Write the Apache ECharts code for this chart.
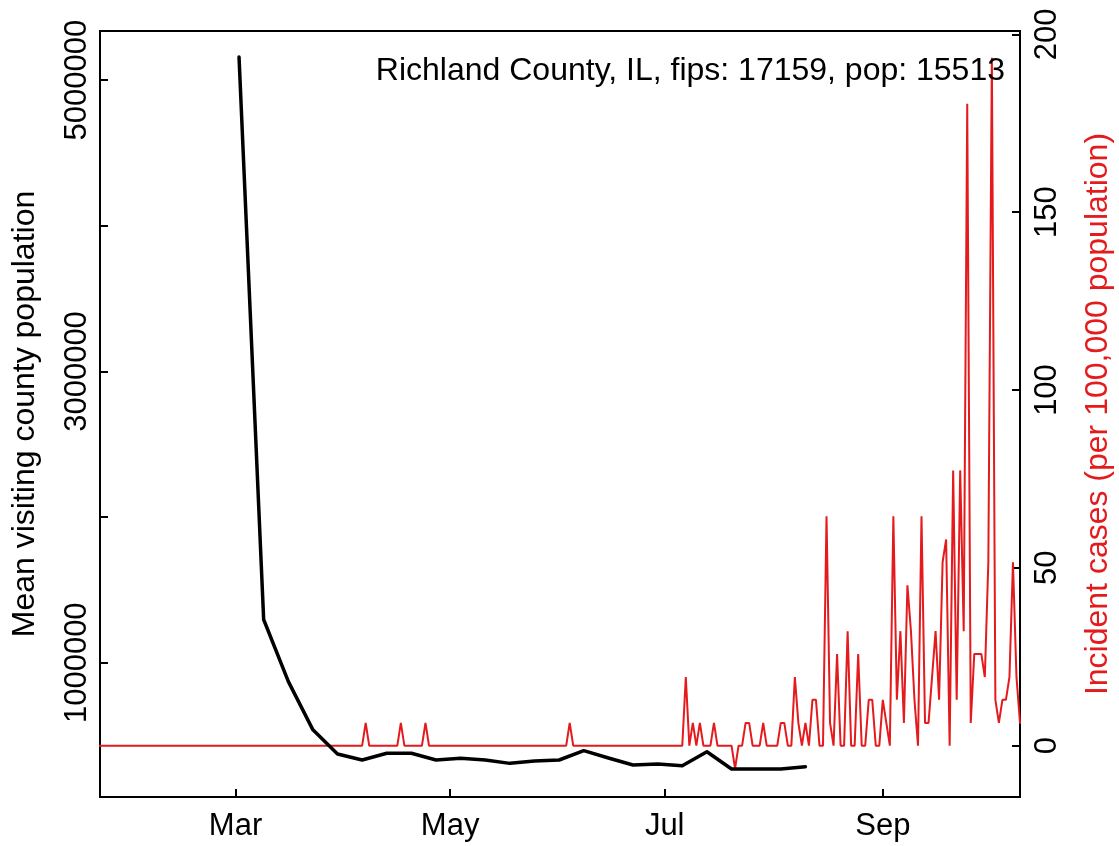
<!DOCTYPE html>
<html><head><meta charset="utf-8">
<script src="https://cdn.jsdelivr.net/npm/echarts@6/dist/echarts.min.js"></script>
<style>html,body{margin:0;padding:0;background:#fff}#c{width:1119px;height:846px}</style>
</head><body><div id="c"></div>
<script>
// ---------- text ----------
const titleText = 'Richland County, IL, fips: 17159, pop: 15513';
const leftAxisName = 'Mean visiting county population';
const rightAxisName = 'Incident cases (per 100,000 population)';

// ---------- axes ----------
const xRange = ['2020-01-22T11:30:00Z', '2020-10-10T00:00:00Z'];
const xTickDates = ['2020-03-01', '2020-05-01', '2020-07-01', '2020-09-01'];
const xTickLabels = ['Mar', 'May', 'Jul', 'Sep'];
const leftRange = [78000, 5338000];
const leftTicks = [1000000, 2000000, 3000000, 4000000, 5000000];
const leftLabels = [1000000, 3000000, 5000000];
const rightRange = [-14.42, 200.93];
const rightTicks = [0, 50, 100, 150, 200];

// ---------- black series: weekly mean visiting county population ----------
const visitDates = ['2020-03-02','2020-03-09','2020-03-16','2020-03-23','2020-03-30',
  '2020-04-06','2020-04-13','2020-04-20','2020-04-27','2020-05-04','2020-05-11',
  '2020-05-18','2020-05-25','2020-06-01','2020-06-08','2020-06-15','2020-06-22',
  '2020-06-29','2020-07-06','2020-07-13','2020-07-20','2020-07-27','2020-08-03','2020-08-10'];
const visitValues = [5159000, 1297000, 872000, 539000, 373000,
  332000, 378000, 378000, 332000, 344000, 332000,
  309000, 325000, 332000, 396000, 346000, 298000,
  305000, 293000, 389000, 270000, 270000, 270000, 286000];

// ---------- red series: daily incident cases per 100,000 (from 2020-01-21) ----------
const caseStartDate = '2020-01-21';
const caseValues = [
  0,0,0,0,0,0,0,0,0,0,   // Jan 21-30
  0,0,0,0,0,0,0,0,0,0,
  0,0,0,0,0,0,0,0,0,0,
  0,0,0,0,0,0,0,0,0,0,
  0,0,0,0,0,0,0,0,0,0,   // Mar 1-10
  0,0,0,0,0,0,0,0,0,0,
  0,0,0,0,0,0,0,0,0,0,
  0,0,0,0,0,0,0,6.4,0,0,
  0,0,0,0,0,0,0,6.4,0,0,
  0,0,0,0,6.4,0,0,0,0,0,
  0,0,0,0,0,0,0,0,0,0,
  0,0,0,0,0,0,0,0,0,0,
  0,0,0,0,0,0,0,0,0,0,
  0,0,0,0,0,6.4,0,0,0,0,
  0,0,0,0,0,0,0,0,0,0,
  0,0,0,0,0,0,0,0,0,0,
  0,0,0,0,0,0,0,0,19.3,0,
  6.4,0,6.4,0,0,0,6.4,0,0,0,
  0,0,-6.4,0,0,6.4,6.4,0,0,0,
  6.4,0,0,0,0,6.4,6.4,0,0,19.3,
  6.4,0,6.4,0,12.9,12.9,0,0,64.5,6.4,
  0,25.8,0,0,32.2,0,0,25.8,0,0,
  12.9,12.9,0,0,12.9,6.4,0,64.5,12.9,32.2,
  6.4,45.1,32.2,12.9,0,64.5,6.4,6.4,19.3,32.2,
  12.9,51.6,58.0,0,77.4,12.9,77.4,32.2,180.5,6.4,
  25.8,25.8,25.8,19.3,51.6,193.4,12.9,6.4,12.9,12.9,
  19.3,51.6,19.3,6.4,6.4
];

// ---------- colours ----------
const RED = '#e41a1c';
const BLACK = '#000000';
const FONT = '"Liberation Sans", Arial, Helvetica, sans-serif';

const DAY = 86400000;
const ts = s => Date.parse(s.length === 10 ? s + 'T00:00:00Z' : s);
const xTickTs = xTickDates.map(ts);
const visitData = visitDates.map((d, i) => [ts(d), visitValues[i]]);
const caseStart = ts(caseStartDate);
const caseData = caseValues.map((v, i) => [caseStart + i * DAY, v]);

const chart = echarts.init(document.getElementById('c'), null, {renderer: 'canvas'});
chart.setOption({
  animation: false,
  backgroundColor: '#ffffff',
  textStyle: {fontFamily: FONT},
  grid: {left: 100, right: 99, top: 31, bottom: 49, show: true, borderColor: BLACK, borderWidth: 2,
         containLabel: false, outerBoundsMode: 'none'},
  xAxis: {
    type: 'value', min: ts(xRange[0]), max: ts(xRange[1]), scale: true,
    splitLine: {show: false},
    axisLine: {show: true, onZero: false, lineStyle: {color: BLACK, width: 2}},
    axisTick: {show: true, inside: true, length: 8, customValues: xTickTs, lineStyle: {color: BLACK, width: 2}},
    axisLabel: {show: true, customValues: xTickTs, margin: 14, fontSize: 31, color: BLACK, fontFamily: FONT,
      formatter: v => { const i = xTickTs.indexOf(v); return i >= 0 ? xTickLabels[i] : ''; }}
  },
  yAxis: [{
    type: 'value', position: 'left', min: leftRange[0], max: leftRange[1],
    splitLine: {show: false},
    axisLine: {show: true, onZero: false, lineStyle: {color: BLACK, width: 2}},
    axisTick: {show: true, inside: true, length: 8, customValues: leftTicks, lineStyle: {color: BLACK, width: 2}},
    axisLabel: {show: true, customValues: leftLabels, rotate: 90, margin: 7, fontSize: 31, color: BLACK, fontFamily: FONT,
      formatter: v => String(v)},
    name: leftAxisName, nameLocation: 'middle', nameRotate: 90, nameGap: 59,
    nameTextStyle: {fontSize: 32, color: BLACK, fontFamily: FONT}
  }, {
    type: 'value', position: 'right', min: rightRange[0], max: rightRange[1],
    splitLine: {show: false},
    axisLine: {show: true, onZero: false, lineStyle: {color: BLACK, width: 2}},
    axisTick: {show: true, inside: true, length: 8, customValues: rightTicks, lineStyle: {color: BLACK, width: 2}},
    axisLabel: {show: true, customValues: rightTicks, rotate: 90, margin: 12, fontSize: 31, color: BLACK, fontFamily: FONT,
      formatter: v => String(v)},
    name: rightAxisName, nameLocation: 'middle', nameRotate: 90, nameGap: 62,
    nameTextStyle: {fontSize: 32, color: RED, fontFamily: FONT}
  }],
  series: [{
    type: 'line', name: 'cases', yAxisIndex: 1, data: caseData, showSymbol: false, symbol: 'none',
    lineStyle: {color: RED, width: 2}, clip: true, z: 2
  }, {
    type: 'line', name: 'visiting', yAxisIndex: 0, data: visitData, showSymbol: false, symbol: 'none',
    lineStyle: {color: BLACK, width: 3.5, cap: 'round', join: 'round'}, clip: true, z: 3
  }],
  graphic: [{
    type: 'text', x: 1005, y: 71, z: 10,
    style: {text: titleText, fill: BLACK, font: '32px ' + FONT, align: 'right', verticalAlign: 'middle'}
  }]
});
</script></body></html>
